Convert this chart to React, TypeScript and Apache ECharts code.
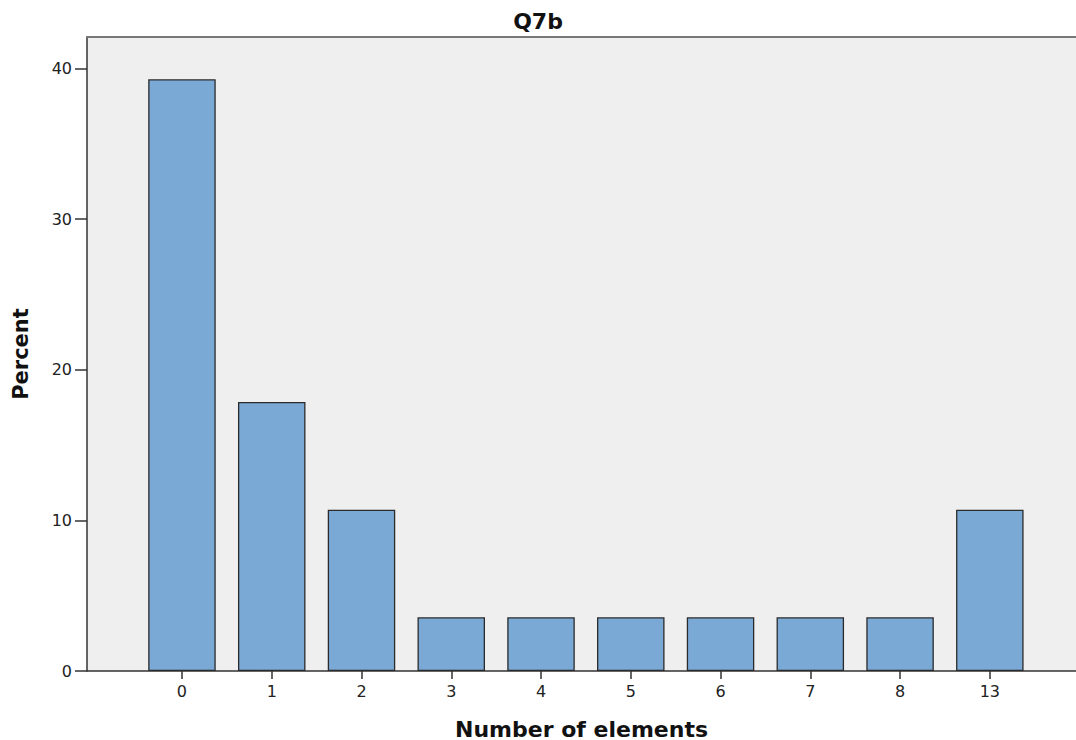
import React, { useEffect, useRef } from "react";
import * as echarts from "echarts";

const categories = ["0", "1", "2", "3", "4", "5", "6", "7", "8", "13"];
const percentValues = [39.29, 17.86, 10.71, 3.57, 3.57, 3.57, 3.57, 3.57, 3.57, 10.71];
const yTicks = [0, 10, 20, 30, 40];

export default function App() {
  const ref = useRef<HTMLDivElement>(null);
  useEffect(() => {
    if (!ref.current) return;
    const chart = echarts.init(ref.current, null, { renderer: "svg" });
    const font = "DejaVu Sans";
    const positions = categories.map((_, i) => i);
    chart.setOption({
      animation: false,
      title: {
        text: "Q7b",
        left: "center",
        top: 5,
        textStyle: { fontFamily: font, fontSize: 22, fontWeight: "bold", color: "#111" },
      },
      grid: {
        left: 87,
        right: 0,
        top: 37,
        bottom: 69,
        outerBoundsMode: "none",
        containLabel: false,
        show: true,
        backgroundColor: "#efefef",
        borderWidth: 0,
      },
      xAxis: [
        {
          type: "value",
          min: -1.058,
          max: 9.96,
          splitLine: { show: false },
          axisLine: { show: true, onZero: false, lineStyle: { color: "#333", width: 1.5 } },
          axisTick: { show: true, customValues: positions, length: 8, lineStyle: { color: "#333", width: 1.5 } },
          axisLabel: {
            customValues: positions,
            formatter: (v: number) => categories[Math.round(v)] ?? "",
            fontFamily: font,
            fontSize: 16,
            color: "#222",
            margin: 12,
          },
          name: "Number of elements",
          nameLocation: "middle",
          nameGap: 47,
          nameTextStyle: { fontFamily: font, fontSize: 22, fontWeight: "bold", color: "#111" },
        },
        {
          type: "value",
          position: "top",
          min: -1.058,
          max: 9.96,
          splitLine: { show: false },
          axisLine: { show: true, onZero: false, lineStyle: { color: "#777", width: 2 } },
          axisTick: { show: false },
          axisLabel: { show: false },
        },
      ],
      yAxis: {
        type: "value",
        min: 0,
        max: 42.1,
        interval: 10,
        splitLine: { show: false },
        axisLine: { show: true, onZero: false, lineStyle: { color: "#333", width: 1.5 } },
        axisTick: { show: true, customValues: yTicks, length: 12, lineStyle: { color: "#333", width: 1.5 } },
        axisLabel: {
          customValues: yTicks,
          fontFamily: font,
          fontSize: 16,
          color: "#222",
          margin: 15,
        },
        name: "Percent",
        nameLocation: "middle",
        nameGap: 56,
        nameTextStyle: { fontFamily: font, fontSize: 21, fontWeight: "bold", color: "#111" },
      },
      series: [
        {
          type: "bar",
          xAxisIndex: 0,
          barWidth: 67.5,
          data: percentValues.map((v, i) => [positions[i], v]),
          itemStyle: { color: "#7ba9d6", borderColor: "#2b2b2b", borderWidth: 1.3 },
        },
      ],
    });
    return () => chart.dispose();
  }, []);
  return (
    <div
      ref={ref}
      style={{ position: "absolute", left: 0, top: 0, width: 1076, height: 740, background: "#fff" }}
    />
  );
}
